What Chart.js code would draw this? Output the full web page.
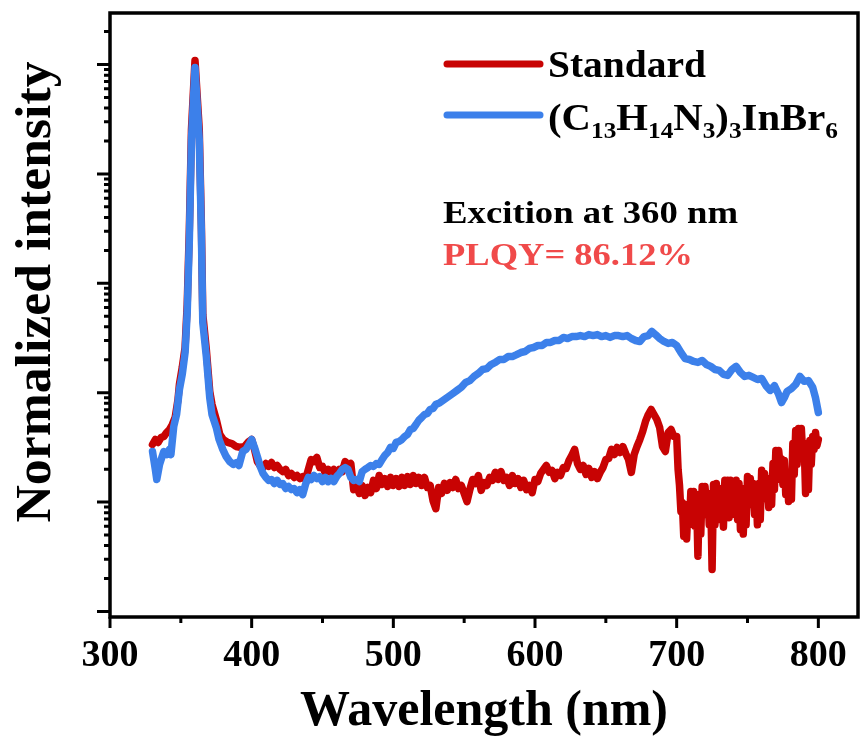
<!DOCTYPE html>
<html>
<head>
<meta charset="utf-8">
<script src="https://cdn.jsdelivr.net/npm/chart.js@4.4.0/dist/chart.umd.min.js"></script>
<style>
  html, body { margin: 0; padding: 0; background: #fff; }
  #wrap { width: 863px; height: 742px; }
</style>
</head>
<body>
<div id="wrap"><canvas id="pl" width="863" height="742"></canvas></div>
<script>
// PL spectra: standard vs (C13H14N3)3InBr6, log intensity axis (no labels)

const stdWl = [
  330,332,334,336,338,340,342,344,346,348,349,351,353,354.5,356,357.5,360,363,364.5,365.5,
  368,370.4,372,375,377.5,380,383,386,389,392,395,398,400,
  402,404,406,408,410,412,414,416,418,420,422,424,426,428,430,432,434,436,438,440,
  442,444,446,448,450,452,454,456,458,460,462,464,466,468,
  470,472,474,476,478,480,482,484,486,488,490,492,494,496,498,500,502,504,506,508,
  510,512,514,516,518,520,522,524,526,528,530,532,534,536,538,540,542,544,546,548,
  550,552,554,556,558,560,562,564,566,568,570,572,574,576,578,580,582,584,586,588,
  590,592,594,596,598,600,602,604,606,608,610,612,614,616,618,620,622,624,626,628,
  630,632,634,636,638,640,642,644,646,648,650,652,654,656,658,660,662,664,666,668,
  670,672,674,676,678,680,682,684,686,688,690,692,694,696,698,
  700,701,702,703,704,705,706,707,708,709,710,711,712,713,714,715,716,717,718,719,
  720,721,722,723,724,725,726,727,728,729,730,731,732,733,734,735,736,737,738,739,
  740,741,742,743,744,745,746,747,748,749,750,751,752,753,754,755,756,757,758,759,
  760,761,762,763,764,765,766,767,768,769,770,771,772,773,774,775,776,777,778,779,
  780,781,782,783,784,785,786,787,788,789,790,791,792,793,794,795,796,797,798,799,800];
const stdVals = [
  33.6,37.3,35.1,38.9,39.8,43.3,46.1,51.2,59.3,86.7,119,170,259,640,3100,25500,109000,25500,3446,519,
  248,103,78,56.9,41.5,37.3,35.1,34.3,32.2,31.6,32.2,35.8,37.3,
  30.3,23.5,21.6,20.7,22.5,21.2,23.0,20.7,21.6,19.9,19.0,19.9,17.5,18.3,16.8,17.5,16.4,17.1,16.1,19.9,
  24.5,23.5,25.6,20.7,21.2,18.3,19.9,18.7,19.9,17.5,19.9,19.0,23.5,21.2,
  22.5,13.0,14.2,12.0,14.2,11.5,13.6,12.2,15.8,13.3,17.5,14.5,16.4,13.9,16.8,14.2,16.4,13.9,16.8,14.2,
  17.1,14.5,17.5,14.8,16.8,14.2,16.8,13.6,14.2,10.3,8.7,13.6,12.0,14.8,12.8,15.1,13.6,16.1,13.3,14.2,
  12.0,10.1,13.0,16.1,14.8,17.5,12.8,15.1,14.2,16.8,15.8,18.7,16.1,19.0,15.8,16.8,14.2,17.5,14.8,16.4,
  13.6,15.8,13.0,14.2,12.2,16.1,15.4,18.3,19.9,21.6,18.7,19.5,16.4,18.7,17.5,20.7,20.3,24.0,26.7,30.3,
  22.5,19.9,21.6,17.9,20.3,16.8,19.0,16.4,18.7,20.7,24.5,25.0,30.3,27.2,31.6,28.4,32.2,27.8,24.5,18.7,
  27.2,32.2,37.3,44.2,54.6,63.2,70.2,63.2,56.9,48.1,32.2,29.0,43.3,46.1,39.8,
  39.8,19.9,14.2,8.2,9.9,4.85,9.5,4.6,8.9,6.2,12.5,6.65,12.5,6.0,11.7,3.2,11.7,5.1,13.9,7.7,
  13.9,9.5,12.0,6.2,11.7,2.42,14.5,6.2,14.8,8.6,13.3,6.9,11.7,5.9,15.8,7.7,15.8,7.2,15.8,9.5,
  14.8,7.7,15.8,6.9,14.8,5.6,13.3,5.1,12.0,6.2,17.1,9.5,16.4,10.6,14.8,7.7,13.3,6.2,14.8,6.9,
  19.5,10.6,18.3,11.7,16.4,8.9,14.8,9.5,22.5,13.0,29.6,16.1,29.6,22.1,25.0,14.5,24.0,11.7,18.3,10.1,
  16.4,10.6,34.3,17.9,45.1,22.1,47.1,30.3,47.1,27.2,34.3,12.0,34.3,13.0,36.6,22.1,39.8,30.3,43.3,32.9,37.3];

const perWl = [
  330,332,333,335,336.6,338,340,342,343,345,347,349,351,353,354.5,356,357.5,360,363,364.5,
  365.5,368,370.4,372,375,377,379.6,382,384.5,387,389.4,391,393.7,396,398,400,
  402,404,406,408,410,412,414,416,418,420,422,424,426,428,430,432,434,436,438,440,
  442,444,446,448,450,452,454,456,458,460,462,464,466,468,470,472,474,476,478,480,
  482,484,486,488,490,492,494,496,498,500,502,504,506,508,510,512,514,516,518,520,
  522,524,526,528,530,
  533,536,539,542,545,548,551,554,557,560,563,566,569,572,575,578,581,584,587,590,
  593,596,599,602,605,608,611,614,617,620,623,626,629,632,635,638,641,644,647,650,
  653,656,659,662,665,668,671,674,677,680,682.4,685,688,691,694,697,700,703,706,709,
  712,715,718,721,724,727,730,733,736,739,742,745,748,751,754,757,760,763,766,769,
  772,774,776,778,781,784,787,790,793,796,798,800];
const perVals = [
  29.0,19.9,16.1,22.1,25.6,29.0,27.2,30.3,27.2,49.1,63.2,107,147,233,541,2510,20600,93900,20600,2910,
  438,214,90,63.2,48.1,37.3,30.3,26.1,23.5,22.1,23.0,21.6,29.0,30.3,33.6,37.3,
  31.6,26.1,21.2,18.3,16.8,15.8,16.1,14.8,15.8,14.5,14.8,13.3,13.9,13.0,13.3,12.2,13.0,11.7,14.5,16.8,
  16.1,17.5,16.4,17.1,15.4,16.8,15.4,16.4,15.4,17.1,18.3,19.9,20.7,19.9,16.8,15.8,16.1,15.4,19.0,19.9,
  20.7,21.6,21.2,22.5,22.1,24.5,26.7,28.4,31.6,30.9,35.1,35.8,37.3,39.8,41.5,46.1,47.1,51.2,56,59.3,
  63.2,64.6,70.2,71.7,78.0,
  81.3,86.7,92.3,98.4,105,112,124,129,141,150,163,166,181,189,201,201,214,214,223,233,
  238,254,259,270,270,288,288,300,300,320,313,326,326,333,326,340,333,340,326,333,
  320,333,333,326,333,313,300,294,326,333,363,340,313,294,282,288,270,233,205,201,
  193,189,197,181,174,163,160,147,144,163,174,153,141,144,138,132,135,116,105,116,
  96.3,81.3,90,103,109,119,141,127,129,112,90,65.9];

const xTicks = [300,400,500,600,700,800];
const xMinorTicks = [350,450,550,650,750];
const yDecades = [1,10,100,1000,10000,100000];

const RED = "#c80303";
const BLUE = "#3c80ea";
const PLQY_RED = "#f04a4a";
const SERIF = "'Liberation Serif', 'Times New Roman', serif";

// legend line 2 split into [text, isSubscript]
const perLabel = [["(C",0],["13",1],["H",0],["14",1],["N",0],["3",1],[")",0],["3",1],["InBr",0],["6",1]];

function toPoints(xs, ys){ return xs.map((x,i) => ({x, y: ys[i]})); }

function fitText(ctx, str, x, y, width){
  const w = ctx.measureText(str).width;
  ctx.save();
  ctx.translate(x, y);
  ctx.scale(width / w, 1);
  ctx.fillText(str, 0, 0);
  ctx.restore();
}

const decorPlugin = {
  id: "decor",
  afterDraw(chart){
    const {ctx, chartArea: a, scales: {x, y}} = chart;
    ctx.save();
    // frame
    ctx.strokeStyle = "#000";
    ctx.lineWidth = 3.5;
    ctx.strokeRect(a.left, a.top, a.right - a.left, a.bottom - a.top);
    // ticks
    ctx.lineWidth = 3;
    ctx.beginPath();
    xTicks.forEach(v => { const p = x.getPixelForValue(v); ctx.moveTo(p, a.bottom); ctx.lineTo(p, a.bottom + 11); });
    xMinorTicks.forEach(v => { const p = x.getPixelForValue(v); ctx.moveTo(p, a.bottom); ctx.lineTo(p, a.bottom + 6); });
    yDecades.forEach(d => {
      const p = y.getPixelForValue(d);
      ctx.moveTo(a.left, p); ctx.lineTo(a.left - 13, p);
      for(let m = 2; m < 10; m++){
        if(d * m > y.max) break;
        const q = y.getPixelForValue(d * m);
        ctx.moveTo(a.left, q); ctx.lineTo(a.left - 6, q);
      }
    });
    ctx.stroke();

    // y title
    ctx.fillStyle = "#000";
    ctx.font = "bold 50px " + SERIF;
    ctx.textAlign = "center";
    ctx.textBaseline = "alphabetic";
    ctx.save();
    ctx.translate(50, 292);
    ctx.rotate(-Math.PI / 2);
    fitText(ctx, "Normalized intensity", 0, 0, 461);
    ctx.restore();

    // legend
    ctx.lineCap = "round";
    ctx.lineWidth = 7;
    ctx.strokeStyle = RED;
    ctx.beginPath(); ctx.moveTo(447, 64); ctx.lineTo(540, 64); ctx.stroke();
    ctx.strokeStyle = BLUE;
    ctx.beginPath(); ctx.moveTo(447, 115); ctx.lineTo(540, 115); ctx.stroke();

    ctx.textAlign = "left";
    ctx.fillStyle = "#000";
    ctx.font = "bold 37px " + SERIF;
    fitText(ctx, "Standard", 548, 77, 158);

    // formula with subscripts, scaled to its width in the reference
    let total = 0;
    perLabel.forEach(([t, sub]) => {
      ctx.font = (sub ? "bold 23px " : "bold 37px ") + SERIF;
      total += ctx.measureText(t).width;
    });
    ctx.save();
    ctx.translate(548, 130);
    ctx.scale(290 / total, 1);
    let cx = 0;
    perLabel.forEach(([t, sub]) => {
      ctx.font = (sub ? "bold 23px " : "bold 37px ") + SERIF;
      ctx.fillText(t, cx, sub ? 8 : 0);
      cx += ctx.measureText(t).width;
    });
    ctx.restore();

    // notes
    ctx.font = "bold 32px " + SERIF;
    ctx.fillStyle = "#000";
    fitText(ctx, "Excition at 360 nm", 443, 223, 295);
    ctx.fillStyle = PLQY_RED;
    fitText(ctx, "PLQY= 86.12%", 443, 265, 250);
    ctx.restore();
  }
};

new Chart(document.getElementById("pl").getContext("2d"), {
  type: "line",
  data: {
    datasets: [
      {
        label: "Standard",
        data: toPoints(stdWl, stdVals),
        borderColor: RED,
        borderWidth: 7.5,
        order: 2
      },
      {
        label: "(C13H14N3)3InBr6",
        data: toPoints(perWl, perVals),
        borderColor: BLUE,
        borderWidth: 7.5,
        order: 1
      }
    ]
  },
  options: {
    responsive: false,
    animation: false,
    devicePixelRatio: 1,
    layout: { padding: { top: 13, right: 3, left: 0, bottom: 0 } },
    elements: {
      point: { radius: 0 },
      line: { tension: 0, borderJoinStyle: "round", borderCapStyle: "round", fill: false }
    },
    plugins: { legend: { display: false }, tooltip: { enabled: false } },
    scales: {
      x: {
        type: "linear",
        min: 300,
        max: 828,
        afterBuildTicks: s => { s.ticks = xTicks.map(v => ({value: v})); },
        afterFit: s => { s.height = 125; },
        grid: { display: false, drawTicks: false },
        border: { display: false },
        ticks: {
          padding: 16,
          color: "#000",
          font: { family: SERIF, size: 38, weight: "bold" }
        },
        title: {
          display: true,
          text: "Wavelength (nm)",
          color: "#000",
          padding: { top: 0, bottom: 0 },
          font: { family: SERIF, size: 50, weight: "bold" }
        }
      },
      y: {
        type: "logarithmic",
        min: 0.89,
        max: 296000,
        afterFit: s => { s.width = 110; },
        grid: { display: false, drawTicks: false },
        border: { display: false },
        ticks: { display: false }
      }
    }
  },
  plugins: [decorPlugin]
});
</script>
</body>
</html>
